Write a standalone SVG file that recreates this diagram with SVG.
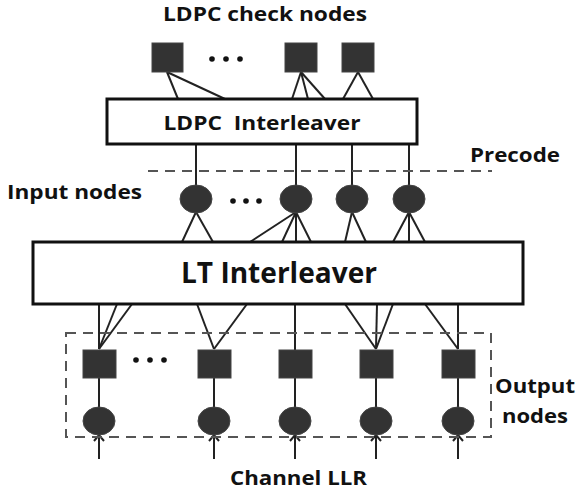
<svg xmlns="http://www.w3.org/2000/svg" width="577" height="492" viewBox="0 0 577 492">
  <style>
    .lbl { font-family: "Open Sans", "Liberation Sans", sans-serif; font-weight: bold; fill: #111; }
    .box { fill: #fff; stroke: #111; stroke-width: 3; }
    .node { fill: #333; stroke: #444; stroke-width: 1; }
    .edge { stroke: #222; stroke-width: 2; fill: none; }
    .dash { stroke: #555; stroke-width: 2; fill: none; stroke-dasharray: 10 7; }
    .dot { fill: #111; }
  </style>
  <defs>
    <marker id="arrowHead" viewBox="0 0 12 12" refX="10" refY="6" markerWidth="12" markerHeight="12" markerUnits="userSpaceOnUse" orient="auto">
      <polyline points="4,1 10,6 4,11" fill="none" stroke="#222" stroke-width="2"/>
    </marker>
  </defs>

  <rect width="577" height="492" fill="#fff"/>

  <!-- connectors -->
  <g id="connectors">
    <!-- check nodes to LDPC interleaver -->
    <line class="edge" x1="167" y1="72" x2="178" y2="99"/>
    <line class="edge" x1="167" y1="72" x2="225" y2="99"/>
    <line class="edge" x1="301" y1="72" x2="292" y2="99"/>
    <line class="edge" x1="301" y1="72" x2="308" y2="99"/>
    <line class="edge" x1="301" y1="72" x2="325" y2="99"/>
    <line class="edge" x1="358" y1="72" x2="343" y2="99"/>
    <line class="edge" x1="358" y1="72" x2="373" y2="99"/>
    <!-- LDPC interleaver to input nodes -->
    <line class="edge" x1="196" y1="144" x2="196" y2="186"/>
    <line class="edge" x1="296" y1="144" x2="296" y2="186"/>
    <line class="edge" x1="352" y1="144" x2="352" y2="186"/>
    <line class="edge" x1="409" y1="144" x2="409" y2="186"/>
    <!-- input nodes to LT interleaver -->
    <line class="edge" x1="196" y1="212" x2="182" y2="242"/>
    <line class="edge" x1="196" y1="212" x2="213" y2="242"/>
    <line class="edge" x1="296" y1="212" x2="250" y2="242"/>
    <line class="edge" x1="296" y1="212" x2="282" y2="242"/>
    <line class="edge" x1="296" y1="212" x2="296" y2="242"/>
    <line class="edge" x1="296" y1="212" x2="311" y2="242"/>
    <line class="edge" x1="352" y1="212" x2="345" y2="242"/>
    <line class="edge" x1="352" y1="212" x2="366" y2="242"/>
    <line class="edge" x1="409" y1="212" x2="393" y2="242"/>
    <line class="edge" x1="409" y1="212" x2="409" y2="242"/>
    <line class="edge" x1="409" y1="212" x2="425" y2="242"/>
    <!-- LT interleaver to output check nodes -->
    <line class="edge" x1="99" y1="304" x2="99" y2="349"/>
    <line class="edge" x1="117" y1="304" x2="99" y2="349"/>
    <line class="edge" x1="132" y1="304" x2="99" y2="349"/>
    <line class="edge" x1="197" y1="304" x2="214" y2="349"/>
    <line class="edge" x1="247" y1="304" x2="214" y2="349"/>
    <line class="edge" x1="295" y1="304" x2="295" y2="350"/>
    <line class="edge" x1="345" y1="304" x2="376" y2="349"/>
    <line class="edge" x1="377" y1="304" x2="376" y2="349"/>
    <line class="edge" x1="393" y1="304" x2="376" y2="349"/>
    <line class="edge" x1="425" y1="304" x2="458" y2="349"/>
    <line class="edge" x1="458" y1="304" x2="458" y2="349"/>
    <!-- output check nodes to output variable nodes -->
    <line class="edge" x1="99" y1="378" x2="99" y2="408"/>
    <line class="edge" x1="214" y1="378" x2="214" y2="408"/>
    <line class="edge" x1="295" y1="378" x2="295" y2="408"/>
    <line class="edge" x1="376" y1="378" x2="376" y2="408"/>
    <line class="edge" x1="458" y1="378" x2="458" y2="408"/>
    <!-- channel LLR inputs -->
    <line class="edge" x1="99" y1="459" x2="99" y2="435" marker-end="url(#arrowHead)"/>
    <line class="edge" x1="214" y1="459" x2="214" y2="435" marker-end="url(#arrowHead)"/>
    <line class="edge" x1="295" y1="459" x2="295" y2="435" marker-end="url(#arrowHead)"/>
    <line class="edge" x1="376" y1="459" x2="376" y2="435" marker-end="url(#arrowHead)"/>
    <line class="edge" x1="458" y1="459" x2="458" y2="435" marker-end="url(#arrowHead)"/>
    <!-- precode boundary -->
    <line class="dash" x1="148" y1="171" x2="492" y2="171"/>
  </g>

  <text class="lbl" x="265" y="21" font-size="20" text-anchor="middle" textLength="204" lengthAdjust="spacingAndGlyphs">LDPC check nodes</text>

  <!-- LDPC check nodes -->
  <g id="check1"><rect class="node" x="152" y="43" width="31" height="29"/></g>
  <g id="checkDots">
    <circle class="dot" cx="212" cy="59" r="2.8"/>
    <circle class="dot" cx="226" cy="59" r="2.8"/>
    <circle class="dot" cx="240" cy="59" r="2.8"/>
  </g>
  <g id="check2"><rect class="node" x="285" y="43" width="32" height="29"/></g>
  <g id="check3"><rect class="node" x="342" y="43" width="32" height="29"/></g>

  <!-- LDPC interleaver -->
  <g id="ldpcInterleaver">
    <rect class="box" x="107" y="99" width="310" height="45"/>
    <text class="lbl" x="262" y="130" font-size="19.5" text-anchor="middle" textLength="197" lengthAdjust="spacingAndGlyphs" xml:space="preserve">LDPC  Interleaver</text>
  </g>

  <text class="lbl" x="515" y="162" font-size="19.5" text-anchor="middle" textLength="90" lengthAdjust="spacingAndGlyphs">Precode</text>
  <text class="lbl" x="74.5" y="199" font-size="20" text-anchor="middle" textLength="135" lengthAdjust="spacingAndGlyphs">Input nodes</text>

  <!-- input nodes -->
  <g id="input1"><ellipse class="node" cx="196" cy="199" rx="16" ry="14"/></g>
  <g id="inputDots">
    <circle class="dot" cx="233" cy="201" r="2.8"/>
    <circle class="dot" cx="246" cy="201" r="2.8"/>
    <circle class="dot" cx="259" cy="201" r="2.8"/>
  </g>
  <g id="input2"><ellipse class="node" cx="296" cy="199" rx="16" ry="14"/></g>
  <g id="input3"><ellipse class="node" cx="352" cy="199" rx="16" ry="14"/></g>
  <g id="input4"><ellipse class="node" cx="409" cy="199" rx="16" ry="14"/></g>

  <!-- LT interleaver -->
  <g id="ltInterleaver">
    <rect class="box" x="33" y="242" width="490" height="62"/>
    <text class="lbl" x="279" y="283" font-size="28" text-anchor="middle" textLength="196" lengthAdjust="spacingAndGlyphs">LT Interleaver</text>
  </g>

  <!-- output nodes group -->
  <g id="outputNodes">
    <rect class="dash" x="66" y="333" width="425" height="104"/>
    <g id="outCheck1"><rect class="node" x="83" y="350" width="33" height="28"/></g>
    <g id="outDots">
      <circle class="dot" cx="136" cy="360" r="2.8"/>
      <circle class="dot" cx="150" cy="360" r="2.8"/>
      <circle class="dot" cx="164" cy="360" r="2.8"/>
    </g>
    <g id="outCheck2"><rect class="node" x="198" y="350" width="33" height="28"/></g>
    <g id="outCheck3"><rect class="node" x="279" y="350" width="33" height="28"/></g>
    <g id="outCheck4"><rect class="node" x="360" y="350" width="33" height="28"/></g>
    <g id="outCheck5"><rect class="node" x="442" y="350" width="33" height="28"/></g>
    <g id="outVar1"><ellipse class="node" cx="99" cy="421" rx="16" ry="14"/></g>
    <g id="outVar2"><ellipse class="node" cx="214" cy="421" rx="16" ry="14"/></g>
    <g id="outVar3"><ellipse class="node" cx="295" cy="421" rx="16" ry="14"/></g>
    <g id="outVar4"><ellipse class="node" cx="376" cy="421" rx="16" ry="14"/></g>
    <g id="outVar5"><ellipse class="node" cx="458" cy="421" rx="16" ry="14"/></g>
  </g>

  <text class="lbl" x="535" y="393" font-size="20" text-anchor="middle" textLength="80" lengthAdjust="spacingAndGlyphs">Output</text>
  <text class="lbl" x="535" y="423" font-size="20" text-anchor="middle" textLength="66" lengthAdjust="spacingAndGlyphs">nodes</text>
  <text class="lbl" x="298.5" y="485" font-size="20" text-anchor="middle" textLength="137" lengthAdjust="spacingAndGlyphs">Channel LLR</text>
</svg>
